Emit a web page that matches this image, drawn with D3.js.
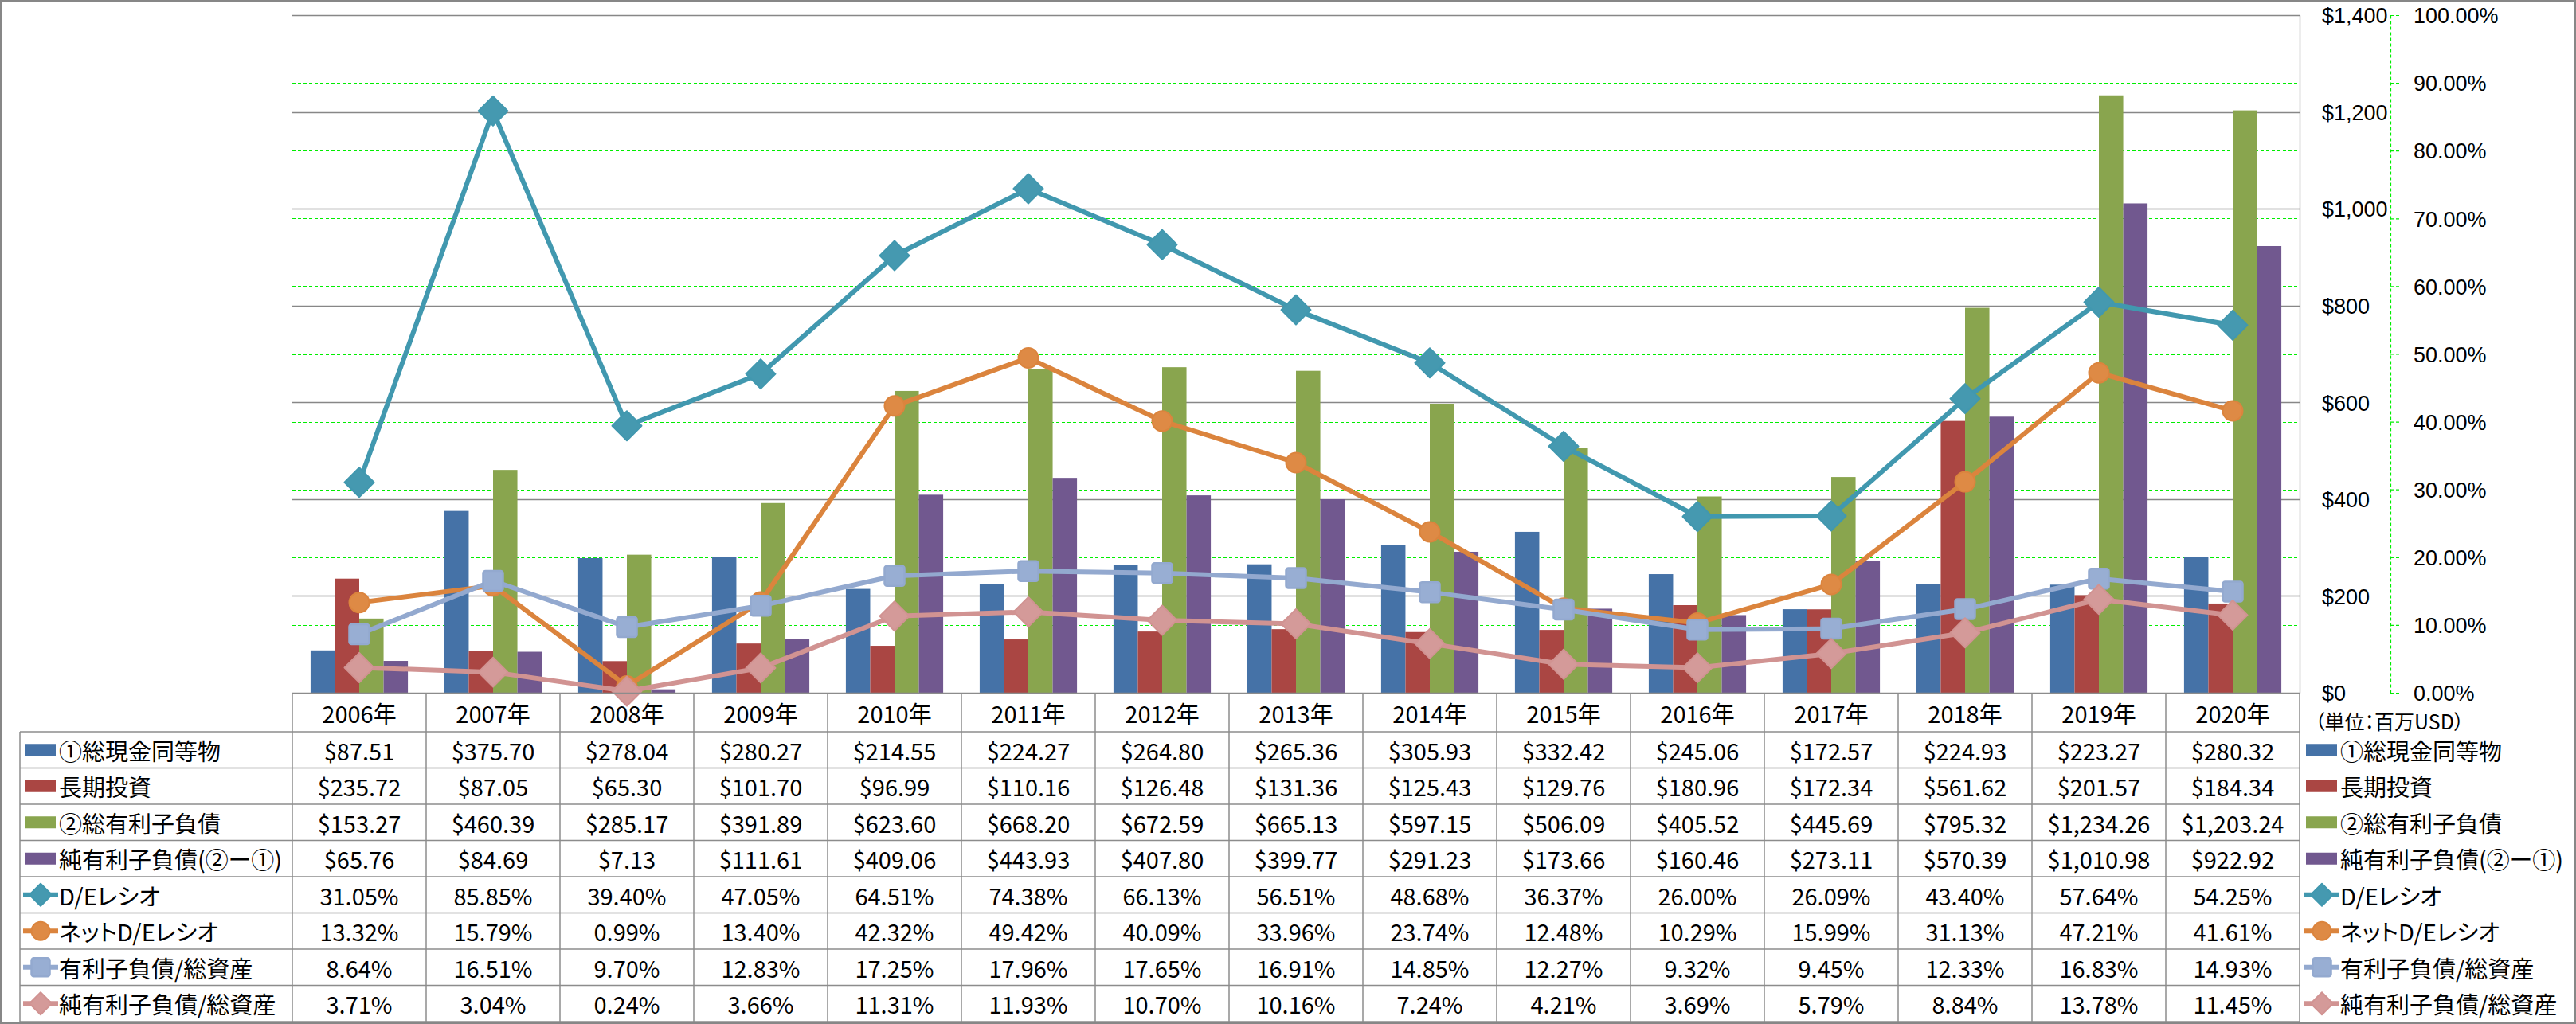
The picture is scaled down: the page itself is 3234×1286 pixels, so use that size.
<!DOCTYPE html>
<html>
<head>
<meta charset="utf-8">
<script src="https://cdn.jsdelivr.net/npm/d3@7/dist/d3.min.js"></script>
<style>
  html, body { margin: 0; padding: 0; background: #fff; }
  svg { display: block; }
  text { font-family: "Noto Sans CJK JP", "Noto Sans", sans-serif; font-feature-settings: "palt"; fill: #000; }
</style>
</head>
<body>
<svg id="chart" width="3234" height="1286"></svg>
<script>
// ---------------- DATA ----------------
const years = ["2006年","2007年","2008年","2009年","2010年","2011年","2012年","2013年","2014年","2015年","2016年","2017年","2018年","2019年","2020年"];
const cashEquivalents = [87.51, 375.70, 278.04, 280.27, 214.55, 224.27, 264.80, 265.36, 305.93, 332.42, 245.06, 172.57, 224.93, 223.27, 280.32];
const longTermInvest  = [235.72, 87.05, 65.30, 101.70, 96.99, 110.16, 126.48, 131.36, 125.43, 129.76, 180.96, 172.34, 561.62, 201.57, 184.34];
const totalDebt       = [153.27, 460.39, 285.17, 391.89, 623.60, 668.20, 672.59, 665.13, 597.15, 506.09, 405.52, 445.69, 795.32, 1234.26, 1203.24];
const netDebt         = [65.76, 84.69, 7.13, 111.61, 409.06, 443.93, 407.80, 399.77, 291.23, 173.66, 160.46, 273.11, 570.39, 1010.98, 922.92];
const deRatio         = [31.05, 85.85, 39.40, 47.05, 64.51, 74.38, 66.13, 56.51, 48.68, 36.37, 26.00, 26.09, 43.40, 57.64, 54.25];
const netDeRatio      = [13.32, 15.79, 0.99, 13.40, 42.32, 49.42, 40.09, 33.96, 23.74, 12.48, 10.29, 15.99, 31.13, 47.21, 41.61];
const debtToAssets    = [8.64, 16.51, 9.70, 12.83, 17.25, 17.96, 17.65, 16.91, 14.85, 12.27, 9.32, 9.45, 12.33, 16.83, 14.93];
const netDebtToAssets = [3.71, 3.04, 0.24, 3.66, 11.31, 11.93, 10.70, 10.16, 7.24, 4.21, 3.69, 5.79, 8.84, 13.78, 11.45];

const seriesNames = ["①総現金同等物","長期投資","②総有利子負債","純有利子負債(②ー①)","D/Eレシオ","ネットD/Eレシオ","有利子負債/総資産","純有利子負債/総資産"];
const leftTicks  = [0, 200, 400, 600, 800, 1000, 1200, 1400];
const rightTicks = [0, 10, 20, 30, 40, 50, 60, 70, 80, 90, 100];
const unitLabel = "（単位：百万USD）";

// ---------------- STYLE / LAYOUT ----------------
const W = 3234, H = 1286;
const plot = { left: 367, right: 2887, top: 19, bottom: 870 };
const secAxisX = 3001;
const tableLeft = 25;
const headerBottom = 919;
const rowH = (1283 - headerBottom) / 8;
const fontSize = 29;
const axisFont = '"Liberation Sans", Arial, sans-serif';

const barColors  = ["#4572A7", "#AA4643", "#89A54E", "#71588F"];
const lineColors = ["#4198AF", "#DB843D", "#93A9CF", "#D19392"];
const markerFill = ["#4599B0", "#DE8A45", "#98AED3", "#D49A99"];
const markerTypes = ["diamond", "circle", "square", "diamond"];

const barSeries  = [cashEquivalents, longTermInvest, totalDebt, netDebt];
const lineSeries = [deRatio, netDeRatio, debtToAssets, netDebtToAssets];

const svg = d3.select("#chart");

// scales
const x = d3.scaleBand().domain(years).range([plot.left, plot.right]).paddingInner(0).paddingOuter(0);
const xSub = d3.scaleBand().domain(d3.range(4)).range([0, x.bandwidth()]).paddingInner(0).paddingOuter(0.75);
const yL = d3.scaleLinear().domain([0, 1400]).range([plot.bottom, plot.top]);
const yR = d3.scaleLinear().domain([0, 100]).range([plot.bottom, plot.top]);

// background
svg.append("rect").attr("x", 0).attr("y", 0).attr("width", W).attr("height", H).attr("fill", "#fff");

// green dashed gridlines (secondary axis)
svg.append("g").selectAll("line").data(rightTicks.filter(t => t > 0 && t < 100)).join("line")
  .attr("x1", plot.left).attr("x2", plot.right)
  .attr("y1", d => Math.round(yR(d)) + 0.5).attr("y2", d => Math.round(yR(d)) + 0.5)
  .attr("stroke", "#00EE00").attr("stroke-width", 1.2).attr("stroke-dasharray", "4,3");

// gray gridlines (primary axis)
svg.append("g").selectAll("line").data(leftTicks.filter(t => t > 0)).join("line")
  .attr("x1", plot.left).attr("x2", plot.right)
  .attr("y1", d => Math.round(yL(d)) + 0.5).attr("y2", d => Math.round(yL(d)) + 0.5)
  .attr("stroke", "#878787").attr("stroke-width", 1.3);

// bars
const barG = svg.append("g");
barSeries.forEach((vals, si) => {
  barG.append("g").selectAll("rect").data(vals).join("rect")
    .attr("x", (d, i) => x(years[i]) + xSub(si))
    .attr("width", xSub.bandwidth())
    .attr("y", d => yL(d))
    .attr("height", d => yL(0) - yL(d))
    .attr("fill", barColors[si]);
});

// marker drawing helper
function drawMarker(g, type, cx, cy, size, fill, stroke) {
  if (type === "diamond") {
    const s = size / 2;
    g.append("path")
      .attr("d", `M${cx},${cy - s}L${cx + s},${cy}L${cx},${cy + s}L${cx - s},${cy}Z`)
      .attr("fill", fill).attr("stroke", stroke).attr("stroke-width", 2).attr("stroke-linejoin", "round");
  } else if (type === "circle") {
    g.append("circle").attr("cx", cx).attr("cy", cy).attr("r", size / 2 - 1)
      .attr("fill", fill).attr("stroke", stroke).attr("stroke-width", 2);
  } else {
    g.append("rect").attr("x", cx - size / 2 + 1).attr("y", cy - size / 2 + 1)
      .attr("width", size - 2).attr("height", size - 2).attr("rx", 3)
      .attr("fill", fill).attr("stroke", stroke).attr("stroke-width", 2.5);
  }
}

// lines
const lineGen = d3.line().x((d, i) => x(years[i]) + x.bandwidth() / 2).y(d => yR(d));
lineSeries.forEach((vals, si) => {
  const g = svg.append("g");
  g.append("path").datum(vals).attr("d", lineGen)
    .attr("fill", "none").attr("stroke", lineColors[si]).attr("stroke-width", 6)
    .attr("stroke-linejoin", "round");
  const size = markerTypes[si] === "diamond" ? 37 : 27;
  vals.forEach((v, i) => drawMarker(g, markerTypes[si], x(years[i]) + x.bandwidth() / 2, yR(v), size, markerFill[si], lineColors[si]));
});

// primary axis (right side of plot)
const axL = d3.axisRight(yL).tickValues(leftTicks).tickSize(0).tickPadding(28)
  .tickFormat(d => "$" + d3.format(",")(d));
const gAxL = svg.append("g").attr("transform", `translate(${plot.right},0)`).call(axL);
gAxL.select(".domain").attr("stroke", "#878787").attr("stroke-width", 1.3);
gAxL.selectAll("text").attr("font-size", 27).attr("fill", "#000").attr("dy", "0.36em")
  .style("font-family", axisFont);

// secondary axis
const axR = d3.axisRight(yR).tickValues(rightTicks).tickSizeInner(11).tickSizeOuter(0).tickPadding(18)
  .tickFormat(d => d3.format(".2f")(d) + "%");
const gAxR = svg.append("g").attr("transform", `translate(${secAxisX},0)`).call(axR);
gAxR.select(".domain").attr("stroke", "#00EE00").attr("stroke-width", 1.2).attr("stroke-dasharray", "4,3");
gAxR.selectAll(".tick line").attr("stroke", "#00EE00").attr("stroke-width", 1.2).attr("stroke-dasharray", "4,3");
gAxR.selectAll("text").attr("font-size", 27).attr("fill", "#000").attr("dy", "0.36em")
  .style("font-family", axisFont);

// ---------------- DATA TABLE ----------------
const tG = svg.append("g");
const gridStroke = "#8C8C8C";
// category axis line / table top
tG.append("line").attr("x1", plot.left).attr("x2", plot.right).attr("y1", plot.bottom + 0.5).attr("y2", plot.bottom + 0.5)
  .attr("stroke", gridStroke).attr("stroke-width", 1.5);
// horizontal row lines
d3.range(9).forEach(r => {
  const yy = headerBottom + r * rowH;
  tG.append("line").attr("x1", tableLeft).attr("x2", plot.right).attr("y1", yy).attr("y2", yy)
    .attr("stroke", gridStroke).attr("stroke-width", 1.5);
});
// vertical lines
years.forEach((yr, i) => {
  tG.append("line").attr("x1", x(yr)).attr("x2", x(yr)).attr("y1", plot.bottom).attr("y2", 1283)
    .attr("stroke", gridStroke).attr("stroke-width", 1.5);
});
tG.append("line").attr("x1", plot.right).attr("x2", plot.right).attr("y1", plot.bottom).attr("y2", 1283)
  .attr("stroke", gridStroke).attr("stroke-width", 1.5);
tG.append("line").attr("x1", tableLeft).attr("x2", tableLeft).attr("y1", headerBottom).attr("y2", 1283)
  .attr("stroke", gridStroke).attr("stroke-width", 1.5);

// header year labels
tG.selectAll("text.yr").data(years).join("text").attr("class", "yr")
  .attr("x", d => x(d) + x.bandwidth() / 2).attr("y", (plot.bottom + headerBottom) / 2)
  .attr("text-anchor", "middle").attr("dominant-baseline", "central")
  .attr("font-size", fontSize).text(d => d);

// cell values
const allSeries = barSeries.concat(lineSeries);
const fmtMoney = v => "$" + d3.format(",.2f")(v);
const fmtPct = v => d3.format(".2f")(v) + "%";
allSeries.forEach((vals, r) => {
  const cy = headerBottom + r * rowH + rowH / 2;
  tG.append("g").selectAll("text").data(vals).join("text")
    .attr("x", (d, i) => x(years[i]) + x.bandwidth() / 2).attr("y", cy)
    .attr("text-anchor", "middle").attr("dominant-baseline", "central")
    .attr("font-size", fontSize)
    .text(d => r < 4 ? fmtMoney(d) : fmtPct(d));
});

// legend keys (left column and right side)
function legendKey(g, r, keyLeft, textX) {
  const cy = headerBottom + r * rowH + rowH / 2;
  if (r < 4) {
    g.append("rect").attr("x", keyLeft + 2).attr("y", cy - 7.5).attr("width", 39).attr("height", 15).attr("fill", barColors[r]);
  } else {
    const li = r - 4;
    g.append("line").attr("x1", keyLeft).attr("x2", keyLeft + 44).attr("y1", cy).attr("y2", cy)
      .attr("stroke", lineColors[li]).attr("stroke-width", 6);
    const size = markerTypes[li] === "diamond" ? 28 : 25;
    drawMarker(g, markerTypes[li], keyLeft + 22, cy, size, markerFill[li], lineColors[li]);
  }
  g.append("text").attr("x", textX).attr("y", cy).attr("dominant-baseline", "central")
    .attr("font-size", fontSize).text(seriesNames[r]);
}
seriesNames.forEach((n, r) => {
  legendKey(tG, r, 29, 74);
  legendKey(tG, r, 2893, 2938);
});

// unit label
svg.append("text").attr("x", 2906).attr("y", 905).attr("dominant-baseline", "central")
  .attr("font-size", 25).text(unitLabel);

// outer border
svg.append("rect").attr("x", 1.25).attr("y", 1.25).attr("width", W - 2.5).attr("height", H - 2.5)
  .attr("fill", "none").attr("stroke", "#878787").attr("stroke-width", 2.5);
</script>
</body>
</html>
